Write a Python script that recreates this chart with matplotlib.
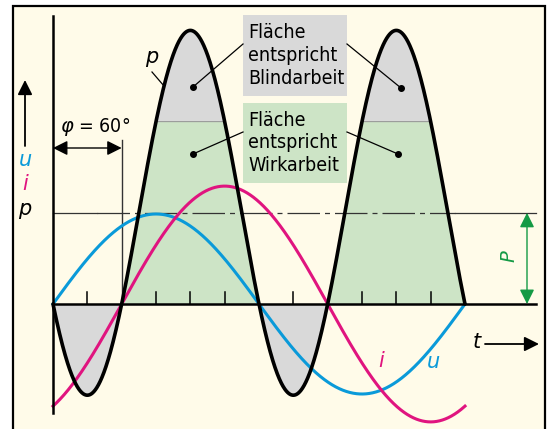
import numpy as np
import matplotlib.pyplot as plt
from matplotlib.patches import Rectangle

# curve parameters (display units: u amplitude = 1)
u_amp = 1.0
i_amp = 1.31
phi_deg = 60
p_peak = 3.04          # maximum of p
level_frac = 0.5 / 0.75  # green/grey boundary as share of p_peak
tick_deg = [30, 90, 120, 150, 210, 270, 300, 330]

box_grey = ["Fläche", "entspricht", "Blindarbeit"]
box_green = ["Fläche", "entspricht", "Wirkarbeit"]

# colours
bg = "#fffbe9"
blue = "#0a9ad9"
magenta = "#e0147f"
green_fill = "#cde4c6"
grey_fill = "#d9d9d9"
green_arrow = "#149a45"

# pixel <-> data helpers (origin at x=53px, y=304px)
sx, sy = 412 / 360, 90.0


def X(px):
    return (px - 53) / sx


def Y(py):
    return (304 - py) / sy


theta = np.linspace(0, 360, 1441)
rad = np.radians(theta)
u = u_amp * np.sin(rad)
i = i_amp * np.sin(rad - np.radians(phi_deg))
p = u * i
p = p / p.max() * p_peak
level = p_peak * level_frac
p_mean = p.mean()

fig = plt.figure(figsize=(5.47, 4.29), dpi=100)
ax = fig.add_axes([0, 0, 1, 1])
ax.set_xlim(X(0), X(547))
ax.set_ylim(Y(429), Y(0))
ax.axis("off")

# frame
ax.add_patch(Rectangle((X(13), Y(440)), X(545) - X(13), Y(6) - Y(440),
                       facecolor=bg, edgecolor="black", lw=1.6, zorder=0))

# fills
ax.fill_between(theta, p, 0, where=p < 0, interpolate=True, color=grey_fill, lw=0, zorder=1)
ax.fill_between(theta, np.minimum(p, level), 0, where=p > 0, interpolate=True,
                color=green_fill, lw=0, zorder=1)
ax.fill_between(theta, p, level, where=p > level, interpolate=True, color=grey_fill, lw=0, zorder=1)
ax.plot(theta, np.where(p >= level, level, np.nan), color="#9a9a9a", lw=0.8, zorder=1.5)

# mean power line
ax.plot([X(53), X(97)], [p_mean, p_mean], color="#333333", lw=0.9, zorder=2)
ax.plot([X(97), X(455)], [p_mean, p_mean], color="#333333", lw=0.9, zorder=2,
        dashes=(26, 4, 4, 4))
ax.plot([X(455), X(536)], [p_mean, p_mean], color="#333333", lw=0.9, zorder=2)

# phase shift line
ax.plot([phi_deg, phi_deg], [0, Y(140)], color="#333333", lw=1.0, zorder=2)

# curves
ax.plot(theta, u, color=blue, lw=2.2, zorder=3)
ax.plot(theta, i, color=magenta, lw=2.2, zorder=3)
ax.plot(theta, p, color="black", lw=2.6, zorder=4, solid_capstyle="round")

# axes
ax.plot([0, 0], [Y(16), Y(413)], color="black", lw=1.8, zorder=5)
ax.plot([0, X(536)], [0, 0], color="black", lw=1.8, zorder=5)
for t in tick_deg:
    ax.plot([t, t], [0, Y(292)], color="black", lw=1.1, zorder=5)

# phi dimension arrow
ax.annotate("", xy=(0, Y(148)), xytext=(phi_deg, Y(148)),
            arrowprops=dict(arrowstyle="<|-|>", color="black", lw=1.0,
                            mutation_scale=22, shrinkA=0, shrinkB=0), zorder=6)
ax.text(X(60), Y(127), r"$\varphi$ = 60°", fontsize=14, ha="left", va="center",
        fontstretch="condensed")

# left axis labels
ax.annotate("", xy=(X(25), Y(80)), xytext=(X(25), Y(146)),
            arrowprops=dict(arrowstyle="-|>", color="black", lw=1.3,
                            mutation_scale=22, shrinkA=0, shrinkB=0))
ax.text(X(25), Y(160), "u", color=blue, fontsize=15, style="italic", ha="center", va="center")
ax.text(X(25), Y(184), "i", color=magenta, fontsize=15, style="italic", ha="center", va="center")
ax.text(X(25), Y(209), "p", color="black", fontsize=15, style="italic", ha="center", va="center")

# t arrow
ax.text(X(477), Y(342), "t", fontsize=15, style="italic", ha="center", va="center")
ax.annotate("", xy=(X(539), Y(344)), xytext=(X(485), Y(344)),
            arrowprops=dict(arrowstyle="-|>", color="black", lw=1.3,
                            mutation_scale=22, shrinkA=0, shrinkB=0))

# curve labels
ax.text(X(381), Y(361), "i", color=magenta, fontsize=15, style="italic", ha="center", va="center")
ax.text(X(433), Y(362), "u", color=blue, fontsize=15, style="italic", ha="center", va="center")
ax.text(X(152), Y(57), "p", fontsize=15, style="italic", ha="center", va="center")
ax.plot([X(152), X(164)], [Y(72), Y(86)], color="black", lw=0.9)

# P dimension arrow
ax.annotate("", xy=(X(527), p_mean), xytext=(X(527), 0),
            arrowprops=dict(arrowstyle="<|-|>", color=green_arrow, lw=1.0,
                            mutation_scale=22, shrinkA=0, shrinkB=0))
ax.text(X(509), Y(256), "P", color=green_arrow, fontsize=14, style="italic",
        rotation=90, ha="center", va="center")

# annotation boxes
for top, bottom, lines, col, dots in [
        (15, 96, box_grey, grey_fill, [(193, 87), (401, 88)]),
        (103, 183, box_green, green_fill, [(193, 154), (398, 154)])]:
    ax.add_patch(Rectangle((X(243), Y(bottom)), X(347) - X(243), Y(top) - Y(bottom),
                           facecolor=col, edgecolor="none", zorder=6))
    ax.text(X(248), Y((top + bottom) / 2), "\n".join(lines), fontsize=14, ha="left",
            va="center", linespacing=1.25, fontstretch="condensed", zorder=7)
    ymid = top + 29
    for (dx, dy), bx in zip(dots, [243, 347]):
        ax.plot([X(bx), X(dx)], [Y(ymid), Y(dy)], color="black", lw=0.9, zorder=6)
        ax.plot(X(dx), Y(dy), "o", color="black", ms=4, zorder=6)

fig.savefig("out.png", dpi=100)
